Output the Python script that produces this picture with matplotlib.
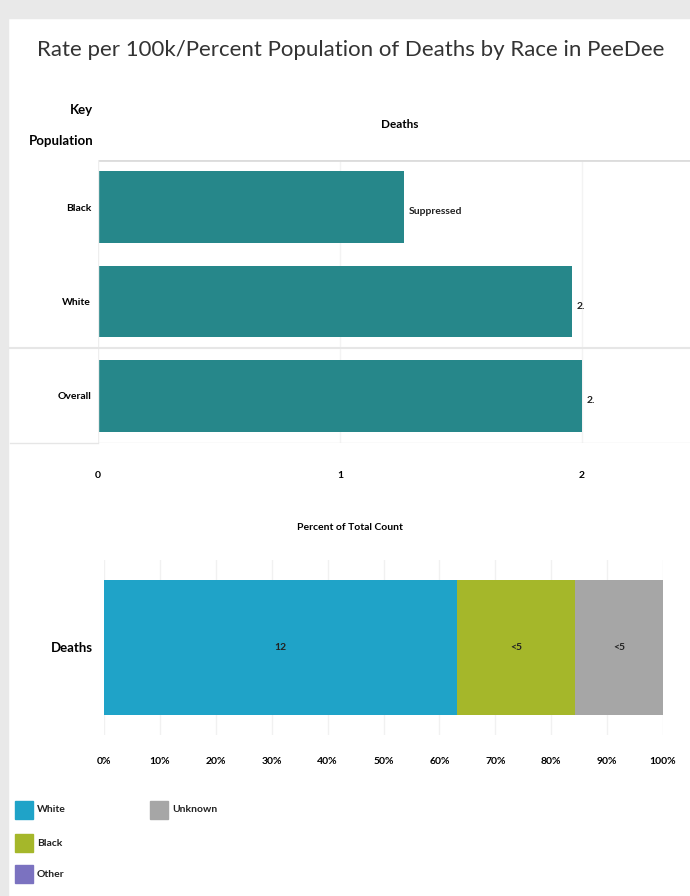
import matplotlib
matplotlib.use("Agg")
import matplotlib.pyplot as plt
from matplotlib.patches import Rectangle
from matplotlib.ticker import PercentFormatter

W, H = 690, 896

# rate chart
rate_groups = ["Black", "White", "Overall"]
rate_values = [1.264, 1.959, 2.0]
rate_labels = ["Suppressed", "2.", "2."]
rate_ticks = [0, 1, 2]

# percent-of-total chart
pct_races = ["White", "Black", "Unknown"]
pct_counts = [12, 4, 3]
pct_labels = ["12", "<5", "<5"]
pct_colors = ["#1fa3c8", "#a5b72a", "#a6a6a6"]

legend_names = ["White", "Black", "Other", "Unknown"]
legend_colors = ["#1fa3c8", "#a5b72a", "#7b72c0", "#a6a6a6"]

TEAL = "#26878a"

plt.rcParams["font.family"] = ["Lato", "DejaVu Sans"]


def box(x0, y0, x1, y1):
    # pixel box (top-left origin) -> figure fraction rect
    return [x0 / W, 1 - y1 / H, (x1 - x0) / W, (y1 - y0) / H]


fig = plt.figure(figsize=(W / 100, H / 100), dpi=100)
fig.patch.set_facecolor("white")

# grey frame around the card
fig.patches.append(Rectangle((0, 1 - 18 / H), 1, 18 / H, transform=fig.transFigure,
                             color="#e9e9e9", zorder=0))
fig.patches.append(Rectangle((0, 0), 8 / W, 1, transform=fig.transFigure,
                             color="#e9e9e9", zorder=0))

fig.text(351 / W, 1 - 50 / H, "Rate per 100k/Percent Population of Deaths by Race in PeeDee",
         ha="center", va="center", fontsize=16, color="#333333")

# ---- rate bars ----
ax = fig.add_axes(box(98, 160, 690, 443))
xmax = 592 / 242
ax.set_xlim(0, xmax)
ax.set_ylim(2.5, -0.5)
ypos = list(range(len(rate_groups)))
ax.barh(ypos, rate_values, height=0.76, color=TEAL, zorder=2)
for y, v, lab in zip(ypos, rate_values, rate_labels):
    ax.text(v + 0.02, y + 0.05, lab, va="center", ha="left", fontsize=7.5,
            fontweight="bold", color="#222222")
for t in rate_ticks[1:]:
    ax.axvline(t, color="#f3f3f3", lw=1, zorder=1)
for s in ax.spines.values():
    s.set_visible(False)
ax.axhline(-0.5, color="#dcdcdc", lw=2)
ax.axhline(2.5, color="#e6e6e6", lw=1)
ax.axvline(0, color="#eeeeee", lw=1)
ax.set_yticks(ypos)
ax.set_yticklabels(rate_groups, fontsize=7.5, fontweight="bold")
ax.tick_params(axis="y", length=0, pad=5)
ax.set_xticks(rate_ticks)
ax.set_xticklabels([str(t) for t in rate_ticks], fontsize=7.5, fontweight="bold")
ax.tick_params(axis="x", length=0, pad=20)
# separator between race rows and overall row
fig.add_artist(plt.Line2D([10 / W, 1], [1 - 348 / H, 1 - 348 / H], color="#e6e6e6", lw=1.5))
fig.add_artist(plt.Line2D([10 / W, 98 / W], [1 - 443 / H, 1 - 443 / H], color="#e6e6e6", lw=1))

fig.text(93 / W, 1 - 110 / H, "Key", ha="right", va="center", fontsize=9.5, fontweight="bold")
fig.text(93 / W, 1 - 141 / H, "Population", ha="right", va="center", fontsize=9.5, fontweight="bold")
fig.text(400 / W, 1 - 124 / H, "Deaths", ha="center", va="center", fontsize=8.5, fontweight="bold")

# ---- percent of total bar ----
fig.text(350 / W, 1 - 527 / H, "Percent of Total Count", ha="center", va="center",
         fontsize=7.5, fontweight="bold")
ax2 = fig.add_axes(box(104, 560, 663, 735))
total = sum(pct_counts)
left = 0.0
for name, c, lab, col in zip(pct_races, pct_counts, pct_labels, pct_colors):
    w = c / total
    ax2.barh(0, w, left=left, height=0.77, color=col, zorder=2)
    ax2.text(left + w / 2, 0, lab, ha="center", va="center", fontsize=7.5,
             fontweight="bold", color="#222222", zorder=3)
    left += w
ax2.set_xlim(0, 1)
ax2.set_ylim(-0.5, 0.5)
ax2.set_xticks([i / 10 for i in range(11)])
ax2.xaxis.set_major_formatter(PercentFormatter(1.0, decimals=0))
ax2.tick_params(axis="x", length=0, pad=16, labelsize=7.5)
for lbl in ax2.get_xticklabels():
    lbl.set_fontweight("bold")
ax2.grid(axis="x", color="#f1f1f1", lw=1, zorder=0)
ax2.set_yticks([0])
ax2.set_yticklabels(["Deaths"], fontsize=9.5, fontweight="bold")
ax2.tick_params(axis="y", length=0, pad=8)
for s in ax2.spines.values():
    s.set_visible(False)

# ---- colour legend ----
legend_pos = [(15, 810), (15, 843), (15, 874), (150, 810)]
for (px, py), name, col in zip(legend_pos, legend_names, legend_colors):
    fig.patches.append(Rectangle((px / W, 1 - (py + 9) / H), 18 / W, 18 / H,
                                 transform=fig.transFigure, color=col))
    fig.text((px + 22) / W, 1 - py / H, name, ha="left", va="center", fontsize=7.5,
             fontweight="bold", color="#222222")

fig.savefig("out.png", dpi=100)
